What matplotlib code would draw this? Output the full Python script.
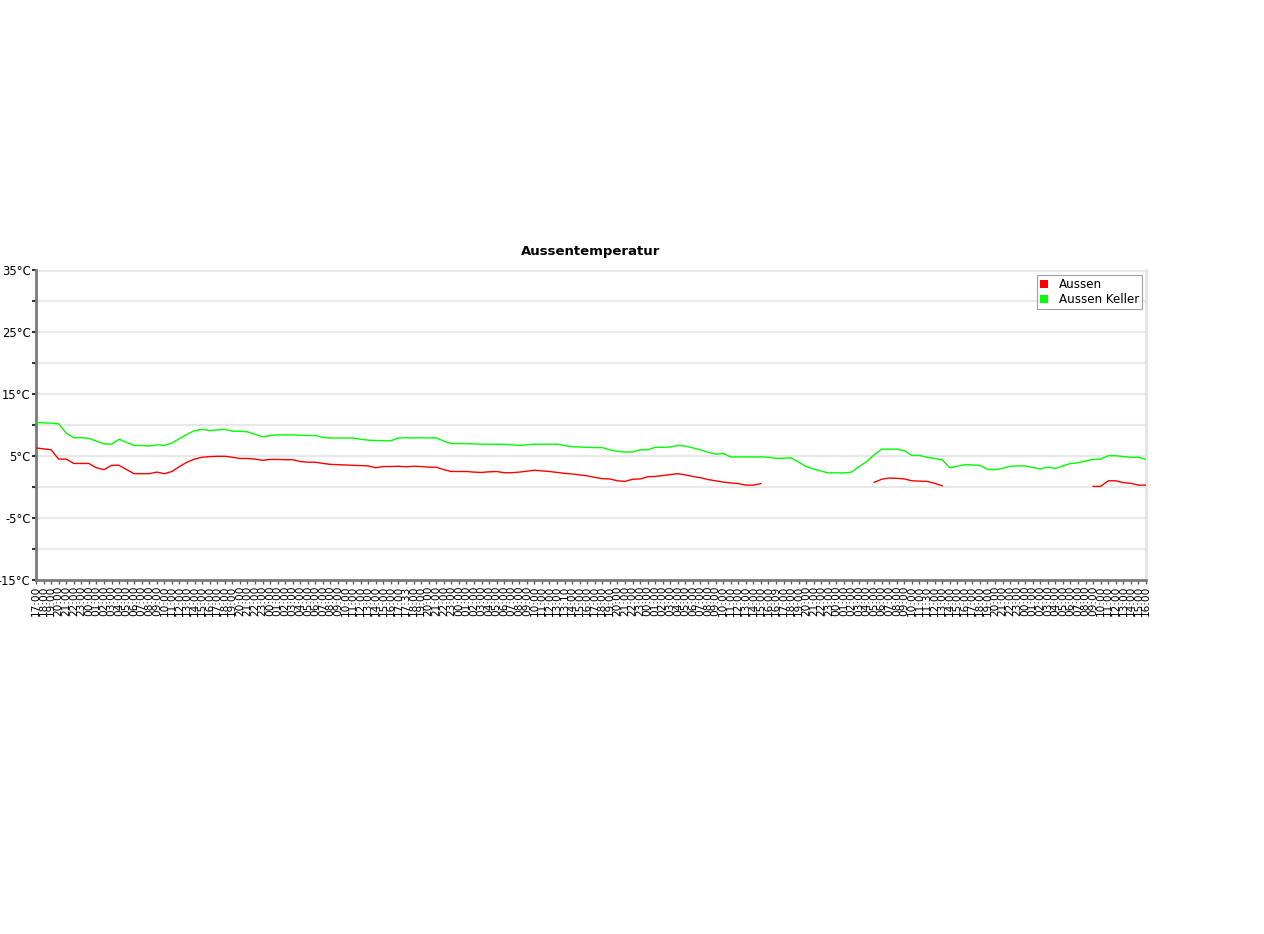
import matplotlib
matplotlib.use("Agg")
import matplotlib.pyplot as plt
from matplotlib.ticker import FixedLocator
from matplotlib.patches import Patch
import numpy as np

# ---------------- data ----------------
labels = (
    ["17:00", "18:00", "19:00", "20:00", "21:00", "22:00", "23:00"]
    + ["00:00", "01:00", "02:00", "03:00", "04:00", "05:00", "06:00", "07:00",
       "08:00", "09:00", "10:00", "11:00", "12:00", "13:00", "14:00", "15:00",
       "16:00", "17:00", "18:00", "19:00", "20:00", "21:00", "22:00", "23:00"]
    + ["00:00", "01:00", "02:00", "03:00", "04:00", "05:00", "06:00", "07:00",
       "08:00", "09:00", "10:00", "11:00", "12:00", "13:00", "14:00", "15:00",
       "16:00", "17:00", "17:33", "18:00", "19:00", "20:00", "21:00", "22:00", "23:00"]
    + ["00:00", "01:00", "02:00", "03:00", "04:00", "05:00", "06:00", "07:00",
       "08:00", "09:00", "10:00", "11:00", "12:00", "13:00", "13:10", "14:00", "15:00",
       "16:00", "17:00", "18:00", "19:00", "20:00", "21:00", "22:00", "23:00"]
    + ["00:00", "01:00", "02:00", "03:00", "04:00", "05:00", "06:00", "07:00",
       "08:00", "09:00", "10:00", "11:00", "12:00", "13:00", "14:00", "15:00",
       "16:00", "16:09", "17:00", "18:00", "19:00", "20:00", "21:00", "22:00", "23:00"]
    + ["00:00", "01:00", "02:00", "03:00", "04:00", "05:00", "06:00", "07:00",
       "08:00", "09:00", "10:00", "11:00", "11:30", "12:00", "13:00", "14:00", "15:00",
       "16:00", "17:00", "18:00", "19:00", "20:00", "21:00", "22:00", "23:00"]
    + ["00:00", "01:00", "02:00", "03:00", "04:00", "05:00", "06:00", "07:00",
       "08:00", "09:00", "10:00", "11:00", "12:00", "13:00", "14:00", "15:00", "16:00"]
)

aussen = [
    6.3, 6.15, 6.0, 4.5, 4.5, 3.8, 3.8, 3.8, 3.1, 2.8,
    3.5, 3.5, 2.8, 2.15, 2.15, 2.15, 2.4, 2.15, 2.5, 3.3,
    4.0, 4.5, 4.8, 4.9, 4.95, 4.95, 4.8, 4.6, 4.6, 4.5,
    4.3, 4.45, 4.45, 4.4, 4.4, 4.1, 4.0, 4.0, 3.8, 3.65,
    3.6, 3.55, 3.5, 3.45, 3.4, 3.1, 3.3, 3.3, 3.35, 3.25,
    3.35, 3.3, 3.2, 3.2, 2.8, 2.5, 2.5, 2.5, 2.4, 2.35,
    2.45, 2.5, 2.3, 2.3, 2.4, 2.55, 2.7, 2.6, 2.5, 2.35,
    2.2, 2.1, 1.95, 1.8, 1.55, 1.35, 1.3, 1.0, 0.9, 1.25,
    1.3, 1.65, 1.7, 1.85, 2.0, 2.15, 1.95, 1.7, 1.5, 1.2,
    1.0, 0.8, 0.65, 0.55, 0.3, 0.3, 0.55, None, None, None,
    None, None, None, None, None, None, None, None, None, None,
    None, 0.75, 1.25, 1.45, 1.4, 1.3, 1.0, 0.95, 0.9, 0.6,
    0.2, None, None, None, None, None, None, None, None, None,
    None, None, None, None, None, None, None, None, None, None,
    0.1, 0.1, 1.0, 1.0, 0.7, 0.6, 0.3, 0.3,
]

aussen_keller = [
    10.4, 10.35, 10.3, 10.2, 8.7, 7.95, 7.95, 7.85, 7.4, 6.95,
    6.9, 7.7, 7.2, 6.7, 6.7, 6.6, 6.8, 6.7, 7.1, 7.8,
    8.5, 9.1, 9.3, 9.1, 9.2, 9.3, 9.0, 9.0, 8.9, 8.5,
    8.1, 8.3, 8.4, 8.4, 8.4, 8.35, 8.3, 8.3, 8.0, 7.9,
    7.9, 7.9, 7.9, 7.7, 7.55, 7.5, 7.45, 7.45, 7.9, 7.95,
    7.9, 7.95, 7.9, 7.95, 7.4, 7.0, 7.0, 7.0, 6.95, 6.9,
    6.9, 6.9, 6.9, 6.8, 6.7, 6.8, 6.9, 6.9, 6.9, 6.9,
    6.7, 6.5, 6.45, 6.4, 6.35, 6.35, 6.0, 5.75, 5.65, 5.65,
    6.0, 6.0, 6.4, 6.4, 6.45, 6.7, 6.6, 6.3, 6.0, 5.6,
    5.3, 5.4, 4.85, 4.85, 4.85, 4.85, 4.85, 4.8, 4.6, 4.65,
    4.7, 4.0, 3.3, 2.9, 2.55, 2.25, 2.3, 2.25, 2.4, 3.3,
    4.1, 5.2, 6.1, 6.1, 6.1, 5.85, 5.1, 5.1, 4.8, 4.6,
    4.4, 3.1, 3.35, 3.6, 3.55, 3.5, 2.85, 2.8, 3.0, 3.35,
    3.4, 3.4, 3.15, 2.9, 3.2, 3.0, 3.4, 3.8, 3.9, 4.2,
    4.45, 4.5, 5.05, 5.05, 4.9, 4.8, 4.8, 4.45,
]

series_names = ["Aussen", "Aussen Keller"]
series_colors = ["#ff0000", "#00ff00"]
y_major = [-15, -5, 5, 15, 25, 35]
y_minor = [-10, 0, 10, 20, 30]
title = "Aussentemperatur"

# ---------------- plot ----------------
W, H = 1264, 934
fig = plt.figure(figsize=(W / 100, H / 100), dpi=100)
ax = fig.add_axes([36 / W, (H - 580) / H, (1146 - 36) / W, (580 - 270) / H])

x = np.arange(len(labels))
for vals, name, col in zip([aussen, aussen_keller], series_names, series_colors):
    y = np.array([np.nan if v is None else v for v in vals], dtype=float)
    ax.plot(x[:len(y)], y, color=col, lw=1.0, label=name, zorder=3)

ax.set_xlim(0, len(labels) - 1)
ax.set_ylim(-15, 35)

ax.set_xticks(x)
ax.set_xticklabels(labels, rotation=90, fontsize=7.6, fontfamily="DejaVu Sans")
ax.yaxis.set_major_locator(FixedLocator(y_major))
ax.yaxis.set_minor_locator(FixedLocator(y_minor))
ax.set_yticklabels([f"{v}°C" for v in y_major], fontsize=8.3)

for v in y_major + y_minor:
    if -15 < v < 35:
        ax.axhline(v, color="#e8e8e8", lw=1.6, zorder=1)
ax.axhline(35, color="#e8e8e8", lw=2.0, zorder=1)

ax.tick_params(axis="x", direction="out", length=3, width=1, color="#555555", pad=1)
ax.tick_params(axis="y", which="both", direction="out", length=3, width=1.5,
               color="#333333", pad=1)

for s in ["left", "bottom"]:
    ax.spines[s].set_color("#7a7a7a")
    ax.spines[s].set_linewidth(2)
ax.spines["top"].set_visible(False)
ax.spines["right"].set_color("#e4e4e4")
ax.spines["right"].set_linewidth(2)

ax.set_title(title, fontsize=9.5, fontweight="bold", pad=11)

handles = [Patch(facecolor=c, edgecolor="none") for c in series_colors]
leg = ax.legend(handles, series_names, loc="upper right", fontsize=8.6,
                frameon=True, fancybox=False, handlelength=0.65, handleheight=0.65,
                handletextpad=0.9, borderpad=0.25, labelspacing=0.15,
                borderaxespad=0, bbox_to_anchor=(0.9965, 0.983))
leg.get_frame().set_edgecolor("#888888")
leg.get_frame().set_linewidth(0.8)

fig.savefig("out.png", dpi=100, facecolor="white")
